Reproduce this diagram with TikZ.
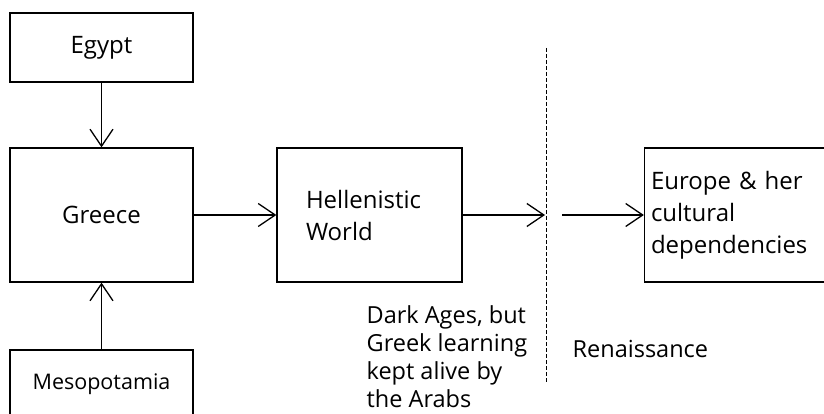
\documentclass[tikz,border=0pt]{standalone}
\usepackage{fontspec}
\setmainfont{Open Sans}
\usetikzlibrary{arrows.meta}

\begin{document}
\begin{tikzpicture}[x=1pt, y=-1pt, line width=1.3pt,
  >={Straight Barb[length=17pt,width=23pt]},
  era/.style={draw, minimum width=183pt, inner sep=0pt, font=\fontsize{24}{32}\selectfont},
  note/.style={align=left, inner sep=0pt, font=\fontsize{23.5}{28}\selectfont},
  divide/.style={line width=1pt, dash pattern=on 4pt off 2pt}]
\clip (0,0) rectangle (824,414);

\node[era, minimum height=69pt] (egypt) at (101.5,47.5) {Egypt};
\node[era, minimum height=134pt] (greece) at (101.5,215) {Greece};
\node[era, minimum height=68pt, font=\fontsize{21.5}{26}\selectfont] (meso) at (101.5,384) {Mesopotamia};
\node[era, minimum height=134pt, text width=127pt, inner xsep=29pt, align=left] (hell) at (369.5,215) {Hellenistic\\World};
\node[era, minimum height=134pt, text width=170pt, inner xsep=6pt, align=left] (europe) at (736,215) {Europe \& her\\cultural\\dependencies};

% the break between the two ages
\coordinate (cuttop) at (546,48);
\coordinate (cutbot) at (546,383);
\coordinate (cutin) at (545,215);
\coordinate (cutout) at (562,215);
\draw[divide] (cuttop) -- (cutbot);

\draw[->] (egypt) -- (greece);
\draw[->] (meso) -- (greece);
\draw[->] (greece) -- (hell);
\draw[->] (hell) -- (cutin);
\draw[->] (cutout) -- (europe);

\node[note, anchor=north west] (dark) at (366,305) {Dark Ages, but\\Greek learning\\kept alive by\\the Arabs};
\node[note, anchor=base west] (renaissance) at (572,357) {Renaissance};
\end{tikzpicture}
\end{document}
